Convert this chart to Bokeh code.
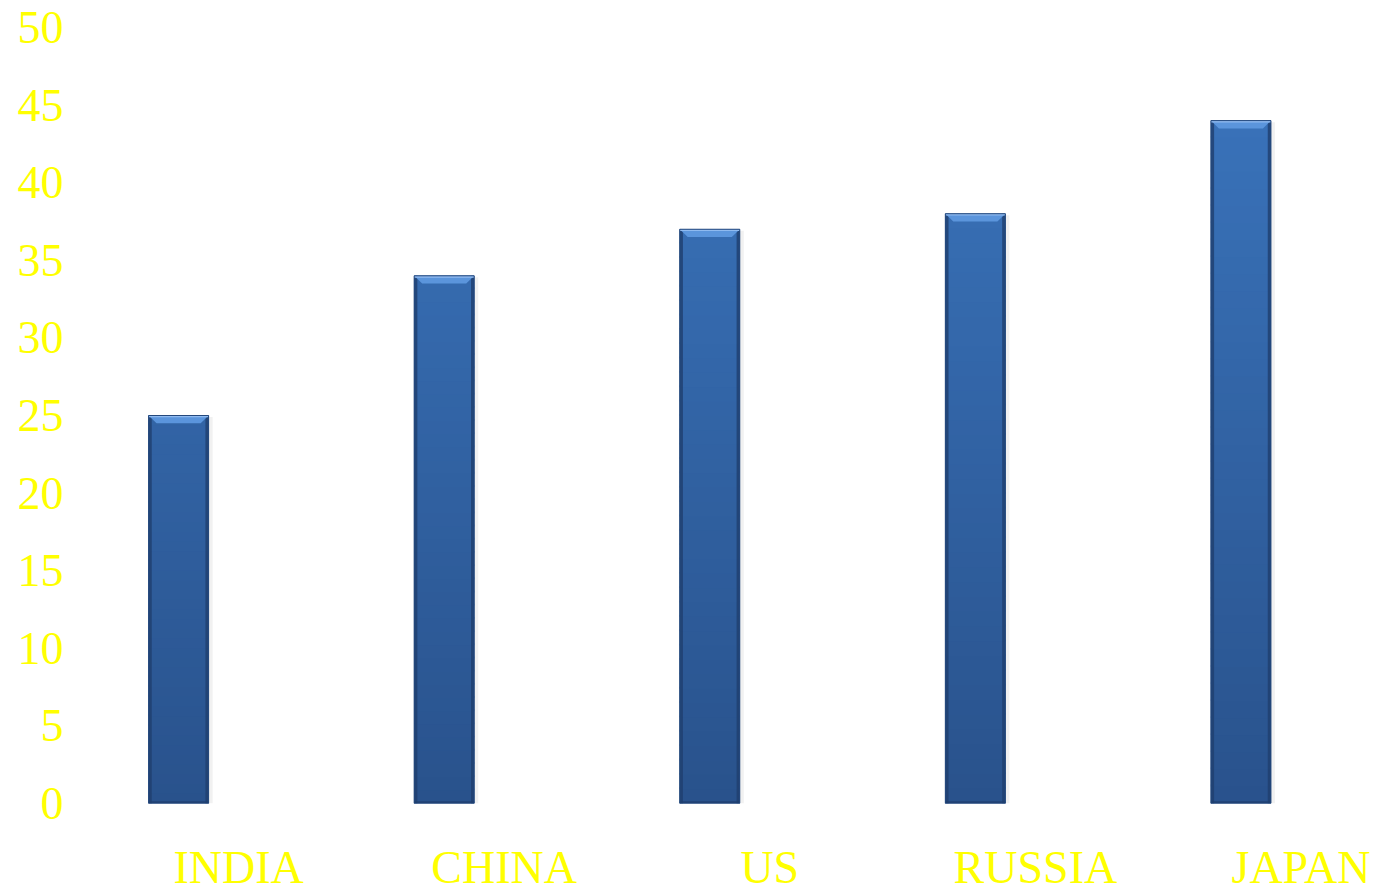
import numpy as np
from bokeh.plotting import figure
from bokeh.models import Range1d, FixedTicker
from bokeh.embed import file_html
from bokeh.resources import INLINE

countries = ["INDIA", "CHINA", "US", "RUSSIA", "JAPAN"]
values = [25, 34, 37, 38, 44]
y_ticks = [0, 5, 10, 15, 20, 25, 30, 35, 40, 45, 50]

W, H = 1378, 895
p = figure(width=W, height=H, output_backend="svg", toolbar_location=None,
           x_range=Range1d(-0.407, 4.518), y_range=Range1d(0, 50),
           min_border_left=70, min_border_right=0, min_border_top=27, min_border_bottom=92)
p.outline_line_color = None
p.grid.visible = False
p.background_fill_color = "white"
p.border_fill_color = "white"

xs = np.arange(len(countries), dtype=float)
vals = np.array(values, dtype=float)
bw = 0.226
label_offset = 0.226

# faint shadow
p.quad(left=xs - bw / 2 + 0.01, right=xs + bw / 2 + 0.015, bottom=0, top=vals - 0.1,
       fill_color="#d8d8d8", fill_alpha=0.35, line_color=None)

# base fill
p.quad(left=xs - bw / 2, right=xs + bw / 2, bottom=0, top=vals, fill_color="#3262a3", line_color=None)

# gradient body
nseg = 40
L, R, B, T, C = [], [], [], [], []
top_c = np.array([0x3b, 0x76, 0xbf])
bot_c = np.array([0x29, 0x52, 0x8c])
for x, v in zip(xs, values):
    edges = np.linspace(0, v, nseg + 1)
    for k in range(nseg):
        f = (edges[k] + edges[k + 1]) / 2 / 50.0
        c = bot_c + (top_c - bot_c) * f
        L.append(x - bw / 2); R.append(x + bw / 2)
        B.append(edges[k]); T.append(min(edges[k + 1] + 0.12, v))
        C.append("#%02x%02x%02x" % tuple(int(round(t)) for t in c))
p.quad(left=L, right=R, bottom=B, top=T, fill_color=C, line_color=None)

# dark side edges
p.quad(left=xs - bw / 2, right=xs - bw / 2 + 0.012, bottom=0, top=vals, fill_color="#1f3f6e", fill_alpha=0.8, line_color=None)
p.quad(left=xs + bw / 2 - 0.012, right=xs + bw / 2, bottom=0, top=vals, fill_color="#1f3f6e", fill_alpha=0.8, line_color=None)
# bottom dark edge
p.quad(left=xs - bw / 2, right=xs + bw / 2, bottom=0, top=0.15, fill_color="#1f3f6e", fill_alpha=0.8, line_color=None)
# top bevel cap
cap = 0.5
for x, v in zip(xs, vals):
    p.patch(x=[x - bw / 2, x + bw / 2, x + bw / 2 - 0.03, x - bw / 2 + 0.03],
            y=[v, v, v - cap, v - cap], fill_color="#5b95dc", line_color=None)
p.quad(left=xs - bw / 2, right=xs + bw / 2, bottom=vals - 0.12, top=vals, fill_color="#8fbaf0", line_color=None)
p.quad(left=xs - bw / 2, right=xs + bw / 2, bottom=0, top=vals, fill_color=None, line_color="#24487c", line_width=1)

# axes
yellow = "#ffff00"
p.yaxis.ticker = FixedTicker(ticks=y_ticks)
p.yaxis.axis_line_color = None
p.yaxis.major_tick_line_color = None
p.yaxis.minor_tick_line_color = None
p.yaxis.major_label_text_font = "Liberation Serif"
p.yaxis.major_label_text_font_size = "46px"
p.yaxis.major_label_text_color = yellow
p.yaxis.major_label_standoff = 1

p.xaxis.ticker = FixedTicker(ticks=list(xs + label_offset))
p.xaxis.major_label_overrides = {float(x + label_offset): c for x, c in zip(xs, countries)}
p.xaxis.axis_line_color = None
p.xaxis.major_tick_line_color = None
p.xaxis.minor_tick_line_color = None
p.xaxis.major_label_text_font = "Liberation Serif"
p.xaxis.major_label_text_font_size = "46px"
p.xaxis.major_label_text_color = yellow
p.xaxis.major_label_standoff = 32

open("out.html", "w").write(file_html(p, INLINE))
